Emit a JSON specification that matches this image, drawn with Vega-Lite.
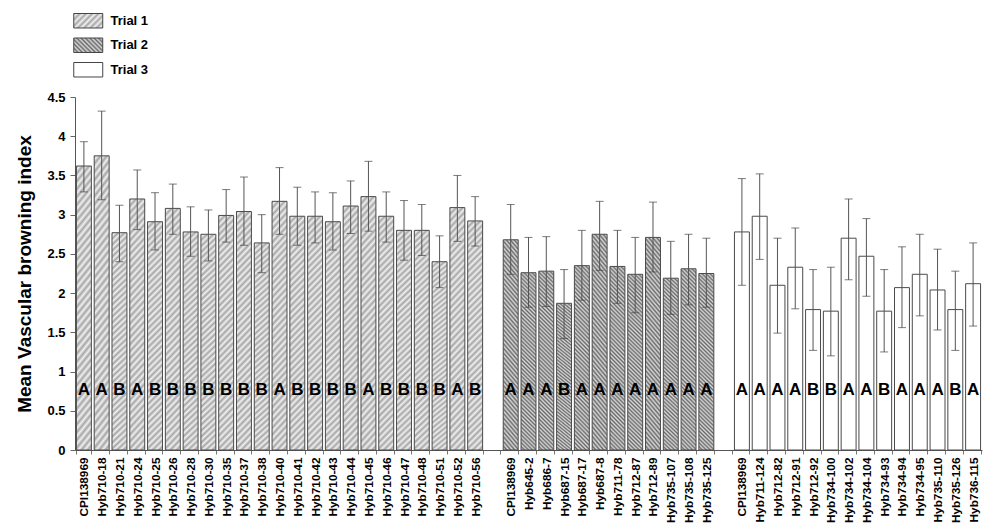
{
  "$schema": "https://vega.github.io/schema/vega-lite/v6.json",
  "width": 907,
  "height": 353,
  "autosize": {"type": "none"},
  "padding": {"left": 75, "top": 97, "right": 2, "bottom": 75},
  "background": "white",
  "config": {
    "view": {"stroke": null},
    "font": "Liberation Sans",
    "axisY": {
      "grid": false,
      "labelOverlap": false,
      "labelFont": "Liberation Sans",
      "labelFontWeight": "bold",
      "labelFontSize": 13,
      "labelColor": "#000000",
      "labelPadding": 5,
      "tickSize": 5,
      "tickColor": "#666666",
      "domainColor": "#555555",
      "titleFont": "Liberation Sans",
      "titleFontWeight": "bold",
      "titleFontSize": 19,
      "titleColor": "#000000",
      "titlePadding": 12
    }
  },
  "data": {"values": [
    {"trial": "Trial 1", "key": "1|CPI138969", "mean": 3.62, "lo": 3.29, "hi": 3.93, "letter": "A"},
    {"trial": "Trial 1", "key": "1|Hyb710-18", "mean": 3.75, "lo": 3.19, "hi": 4.32, "letter": "A"},
    {"trial": "Trial 1", "key": "1|Hyb710-21", "mean": 2.77, "lo": 2.40, "hi": 3.12, "letter": "B"},
    {"trial": "Trial 1", "key": "1|Hyb710-24", "mean": 3.20, "lo": 2.81, "hi": 3.57, "letter": "A"},
    {"trial": "Trial 1", "key": "1|Hyb710-25", "mean": 2.91, "lo": 2.55, "hi": 3.28, "letter": "B"},
    {"trial": "Trial 1", "key": "1|Hyb710-26", "mean": 3.08, "lo": 2.75, "hi": 3.39, "letter": "B"},
    {"trial": "Trial 1", "key": "1|Hyb710-28", "mean": 2.78, "lo": 2.47, "hi": 3.10, "letter": "B"},
    {"trial": "Trial 1", "key": "1|Hyb710-30", "mean": 2.75, "lo": 2.41, "hi": 3.06, "letter": "B"},
    {"trial": "Trial 1", "key": "1|Hyb710-35", "mean": 2.99, "lo": 2.65, "hi": 3.32, "letter": "B"},
    {"trial": "Trial 1", "key": "1|Hyb710-37", "mean": 3.04, "lo": 2.61, "hi": 3.48, "letter": "B"},
    {"trial": "Trial 1", "key": "1|Hyb710-38", "mean": 2.64, "lo": 2.26, "hi": 3.00, "letter": "B"},
    {"trial": "Trial 1", "key": "1|Hyb710-40", "mean": 3.17, "lo": 2.75, "hi": 3.60, "letter": "A"},
    {"trial": "Trial 1", "key": "1|Hyb710-41", "mean": 2.98, "lo": 2.61, "hi": 3.35, "letter": "B"},
    {"trial": "Trial 1", "key": "1|Hyb710-42", "mean": 2.98, "lo": 2.64, "hi": 3.29, "letter": "B"},
    {"trial": "Trial 1", "key": "1|Hyb710-43", "mean": 2.91, "lo": 2.55, "hi": 3.28, "letter": "B"},
    {"trial": "Trial 1", "key": "1|Hyb710-44", "mean": 3.11, "lo": 2.76, "hi": 3.43, "letter": "B"},
    {"trial": "Trial 1", "key": "1|Hyb710-45", "mean": 3.23, "lo": 2.79, "hi": 3.68, "letter": "A"},
    {"trial": "Trial 1", "key": "1|Hyb710-46", "mean": 2.98, "lo": 2.65, "hi": 3.29, "letter": "B"},
    {"trial": "Trial 1", "key": "1|Hyb710-47", "mean": 2.80, "lo": 2.42, "hi": 3.18, "letter": "B"},
    {"trial": "Trial 1", "key": "1|Hyb710-48", "mean": 2.80, "lo": 2.48, "hi": 3.13, "letter": "B"},
    {"trial": "Trial 1", "key": "1|Hyb710-51", "mean": 2.40, "lo": 2.07, "hi": 2.73, "letter": "B"},
    {"trial": "Trial 1", "key": "1|Hyb710-52", "mean": 3.09, "lo": 2.66, "hi": 3.50, "letter": "A"},
    {"trial": "Trial 1", "key": "1|Hyb710-56", "mean": 2.92, "lo": 2.60, "hi": 3.23, "letter": "B"},
    {"trial": "Trial 2", "key": "2|CPI138969", "mean": 2.68, "lo": 2.24, "hi": 3.13, "letter": "A"},
    {"trial": "Trial 2", "key": "2|Hyb645-2", "mean": 2.26, "lo": 1.82, "hi": 2.71, "letter": "A"},
    {"trial": "Trial 2", "key": "2|Hyb686-7", "mean": 2.28, "lo": 1.83, "hi": 2.72, "letter": "A"},
    {"trial": "Trial 2", "key": "2|Hyb687-15", "mean": 1.87, "lo": 1.42, "hi": 2.30, "letter": "B"},
    {"trial": "Trial 2", "key": "2|Hyb687-17", "mean": 2.35, "lo": 1.91, "hi": 2.80, "letter": "A"},
    {"trial": "Trial 2", "key": "2|Hyb687-8", "mean": 2.75, "lo": 2.29, "hi": 3.17, "letter": "A"},
    {"trial": "Trial 2", "key": "2|Hyb711-78", "mean": 2.34, "lo": 1.87, "hi": 2.80, "letter": "A"},
    {"trial": "Trial 2", "key": "2|Hyb712-87", "mean": 2.24, "lo": 1.75, "hi": 2.71, "letter": "A"},
    {"trial": "Trial 2", "key": "2|Hyb712-89", "mean": 2.71, "lo": 2.27, "hi": 3.16, "letter": "A"},
    {"trial": "Trial 2", "key": "2|Hyb735-107", "mean": 2.19, "lo": 1.73, "hi": 2.66, "letter": "A"},
    {"trial": "Trial 2", "key": "2|Hyb735-108", "mean": 2.31, "lo": 1.85, "hi": 2.75, "letter": "A"},
    {"trial": "Trial 2", "key": "2|Hyb735-125", "mean": 2.25, "lo": 1.82, "hi": 2.70, "letter": "A"},
    {"trial": "Trial 3", "key": "3|CPI138969", "mean": 2.78, "lo": 2.10, "hi": 3.46, "letter": "A"},
    {"trial": "Trial 3", "key": "3|Hyb711-124", "mean": 2.98, "lo": 2.43, "hi": 3.52, "letter": "A"},
    {"trial": "Trial 3", "key": "3|Hyb712-82", "mean": 2.10, "lo": 1.49, "hi": 2.70, "letter": "A"},
    {"trial": "Trial 3", "key": "3|Hyb712-91", "mean": 2.33, "lo": 1.80, "hi": 2.83, "letter": "A"},
    {"trial": "Trial 3", "key": "3|Hyb712-92", "mean": 1.79, "lo": 1.27, "hi": 2.30, "letter": "B"},
    {"trial": "Trial 3", "key": "3|Hyb734-100", "mean": 1.77, "lo": 1.20, "hi": 2.33, "letter": "B"},
    {"trial": "Trial 3", "key": "3|Hyb734-102", "mean": 2.70, "lo": 2.17, "hi": 3.20, "letter": "A"},
    {"trial": "Trial 3", "key": "3|Hyb734-104", "mean": 2.47, "lo": 1.96, "hi": 2.95, "letter": "A"},
    {"trial": "Trial 3", "key": "3|Hyb734-93", "mean": 1.77, "lo": 1.25, "hi": 2.30, "letter": "B"},
    {"trial": "Trial 3", "key": "3|Hyb734-94", "mean": 2.07, "lo": 1.56, "hi": 2.59, "letter": "A"},
    {"trial": "Trial 3", "key": "3|Hyb734-95", "mean": 2.24, "lo": 1.71, "hi": 2.75, "letter": "A"},
    {"trial": "Trial 3", "key": "3|Hyb735-110", "mean": 2.04, "lo": 1.53, "hi": 2.56, "letter": "A"},
    {"trial": "Trial 3", "key": "3|Hyb735-126", "mean": 1.79, "lo": 1.27, "hi": 2.28, "letter": "B"},
    {"trial": "Trial 3", "key": "3|Hyb736-115", "mean": 2.12, "lo": 1.58, "hi": 2.64, "letter": "A"}
  ]},
  "encoding": {
    "x": {
      "field": "key",
      "type": "nominal",
      "scale": {
        "domain": ["1|CPI138969", "1|Hyb710-18", "1|Hyb710-21", "1|Hyb710-24", "1|Hyb710-25", "1|Hyb710-26", "1|Hyb710-28", "1|Hyb710-30", "1|Hyb710-35", "1|Hyb710-37", "1|Hyb710-38", "1|Hyb710-40", "1|Hyb710-41", "1|Hyb710-42", "1|Hyb710-43", "1|Hyb710-44", "1|Hyb710-45", "1|Hyb710-46", "1|Hyb710-47", "1|Hyb710-48", "1|Hyb710-51", "1|Hyb710-52", "1|Hyb710-56", "gap1", "2|CPI138969", "2|Hyb645-2", "2|Hyb686-7", "2|Hyb687-15", "2|Hyb687-17", "2|Hyb687-8", "2|Hyb711-78", "2|Hyb712-87", "2|Hyb712-89", "2|Hyb735-107", "2|Hyb735-108", "2|Hyb735-125", "gap2", "3|CPI138969", "3|Hyb711-124", "3|Hyb712-82", "3|Hyb712-91", "3|Hyb712-92", "3|Hyb734-100", "3|Hyb734-102", "3|Hyb734-104", "3|Hyb734-93", "3|Hyb734-94", "3|Hyb734-95", "3|Hyb735-110", "3|Hyb735-126", "3|Hyb736-115"],
        "paddingInner": 0.16,
        "paddingOuter": 0.08
      },
      "axis": {
        "title": null,
        "labelExpr": "split(datum.value, '|')[1] || ''",
        "labelAngle": -90,
        "labelFont": "Liberation Sans",
        "labelFontWeight": "bold",
        "labelFontSize": 11.8,
        "labelColor": "#000000",
        "labelPadding": 3,
        "labelOverlap": false,
        "tickSize": 4,
        "tickColor": "#777777",
        "tickBand": "extent",
        "domainColor": "#555555"
      }
    }
  },
  "layer": [
    {
      "mark": {"type": "bar", "stroke": "#4a4a4a", "strokeWidth": 1},
      "encoding": {
        "y": {
          "field": "mean",
          "type": "quantitative",
          "title": "Mean Vascular browning index",
          "scale": {"domain": [0, 4.5], "nice": false, "zero": true},
          "axis": {"values": [0, 0.5, 1, 1.5, 2, 2.5, 3, 3.5, 4, 4.5], "format": "~g"}
        },
        "fill": {
          "field": "trial",
          "type": "nominal",
          "scale": {
            "domain": ["Trial 1", "Trial 2", "Trial 3"],
            "range": [
              {"expr": "{gradient: 'linear', x1: 0, y1: 0, x2: 1.2, y2: 0.6, stops: [{offset: 0, color: '#a6a6a6'}, {offset: 0.0714, color: '#f0f0f0'}, {offset: 0.1429, color: '#a6a6a6'}, {offset: 0.2143, color: '#f0f0f0'}, {offset: 0.2857, color: '#a6a6a6'}, {offset: 0.3571, color: '#f0f0f0'}, {offset: 0.4286, color: '#a6a6a6'}, {offset: 0.5, color: '#f0f0f0'}, {offset: 0.5714, color: '#a6a6a6'}, {offset: 0.6429, color: '#f0f0f0'}, {offset: 0.7143, color: '#a6a6a6'}, {offset: 0.7857, color: '#f0f0f0'}, {offset: 0.8571, color: '#a6a6a6'}, {offset: 0.9286, color: '#f0f0f0'}, {offset: 1, color: '#a6a6a6'}]}"},
              {"expr": "{gradient: 'linear', x1: 1, y1: 0, x2: -0.2, y2: 0.6, stops: [{offset: 0, color: '#6a6a6a'}, {offset: 0.05, color: '#d8d8d8'}, {offset: 0.1, color: '#6a6a6a'}, {offset: 0.15, color: '#d8d8d8'}, {offset: 0.2, color: '#6a6a6a'}, {offset: 0.25, color: '#d8d8d8'}, {offset: 0.3, color: '#6a6a6a'}, {offset: 0.35, color: '#d8d8d8'}, {offset: 0.4, color: '#6a6a6a'}, {offset: 0.45, color: '#d8d8d8'}, {offset: 0.5, color: '#6a6a6a'}, {offset: 0.55, color: '#d8d8d8'}, {offset: 0.6, color: '#6a6a6a'}, {offset: 0.65, color: '#d8d8d8'}, {offset: 0.7, color: '#6a6a6a'}, {offset: 0.75, color: '#d8d8d8'}, {offset: 0.8, color: '#6a6a6a'}, {offset: 0.85, color: '#d8d8d8'}, {offset: 0.9, color: '#6a6a6a'}, {offset: 0.95, color: '#d8d8d8'}, {offset: 1, color: '#6a6a6a'}]}"},
              "#ffffff"
            ]
          },
          "condition": [
            {"test": "datum.trial === 'Trial 1'", "value": {"gradient": "linear", "x1": 0, "y1": 0, "x2": 0.0715, "y2": 1.1, "stops": [
              {"offset": 0, "color": "#a6a6a6"}, {"offset": 0.0125, "color": "#f0f0f0"}, {"offset": 0.025, "color": "#a6a6a6"}, {"offset": 0.0375, "color": "#f0f0f0"},
              {"offset": 0.05, "color": "#a6a6a6"}, {"offset": 0.0625, "color": "#f0f0f0"}, {"offset": 0.075, "color": "#a6a6a6"}, {"offset": 0.0875, "color": "#f0f0f0"},
              {"offset": 0.1, "color": "#a6a6a6"}, {"offset": 0.1125, "color": "#f0f0f0"}, {"offset": 0.125, "color": "#a6a6a6"}, {"offset": 0.1375, "color": "#f0f0f0"},
              {"offset": 0.15, "color": "#a6a6a6"}, {"offset": 0.1625, "color": "#f0f0f0"}, {"offset": 0.175, "color": "#a6a6a6"}, {"offset": 0.1875, "color": "#f0f0f0"},
              {"offset": 0.2, "color": "#a6a6a6"}, {"offset": 0.2125, "color": "#f0f0f0"}, {"offset": 0.225, "color": "#a6a6a6"}, {"offset": 0.2375, "color": "#f0f0f0"},
              {"offset": 0.25, "color": "#a6a6a6"}, {"offset": 0.2625, "color": "#f0f0f0"}, {"offset": 0.275, "color": "#a6a6a6"}, {"offset": 0.2875, "color": "#f0f0f0"},
              {"offset": 0.3, "color": "#a6a6a6"}, {"offset": 0.3125, "color": "#f0f0f0"}, {"offset": 0.325, "color": "#a6a6a6"}, {"offset": 0.3375, "color": "#f0f0f0"},
              {"offset": 0.35, "color": "#a6a6a6"}, {"offset": 0.3625, "color": "#f0f0f0"}, {"offset": 0.375, "color": "#a6a6a6"}, {"offset": 0.3875, "color": "#f0f0f0"},
              {"offset": 0.4, "color": "#a6a6a6"}, {"offset": 0.4125, "color": "#f0f0f0"}, {"offset": 0.425, "color": "#a6a6a6"}, {"offset": 0.4375, "color": "#f0f0f0"},
              {"offset": 0.45, "color": "#a6a6a6"}, {"offset": 0.4625, "color": "#f0f0f0"}, {"offset": 0.475, "color": "#a6a6a6"}, {"offset": 0.4875, "color": "#f0f0f0"},
              {"offset": 0.5, "color": "#a6a6a6"}, {"offset": 0.5125, "color": "#f0f0f0"}, {"offset": 0.525, "color": "#a6a6a6"}, {"offset": 0.5375, "color": "#f0f0f0"},
              {"offset": 0.55, "color": "#a6a6a6"}, {"offset": 0.5625, "color": "#f0f0f0"}, {"offset": 0.575, "color": "#a6a6a6"}, {"offset": 0.5875, "color": "#f0f0f0"},
              {"offset": 0.6, "color": "#a6a6a6"}, {"offset": 0.6125, "color": "#f0f0f0"}, {"offset": 0.625, "color": "#a6a6a6"}, {"offset": 0.6375, "color": "#f0f0f0"},
              {"offset": 0.65, "color": "#a6a6a6"}, {"offset": 0.6625, "color": "#f0f0f0"}, {"offset": 0.675, "color": "#a6a6a6"}, {"offset": 0.6875, "color": "#f0f0f0"},
              {"offset": 0.7, "color": "#a6a6a6"}, {"offset": 0.7125, "color": "#f0f0f0"}, {"offset": 0.725, "color": "#a6a6a6"}, {"offset": 0.7375, "color": "#f0f0f0"},
              {"offset": 0.75, "color": "#a6a6a6"}, {"offset": 0.7625, "color": "#f0f0f0"}, {"offset": 0.775, "color": "#a6a6a6"}, {"offset": 0.7875, "color": "#f0f0f0"},
              {"offset": 0.8, "color": "#a6a6a6"}, {"offset": 0.8125, "color": "#f0f0f0"}, {"offset": 0.825, "color": "#a6a6a6"}, {"offset": 0.8375, "color": "#f0f0f0"},
              {"offset": 0.85, "color": "#a6a6a6"}, {"offset": 0.8625, "color": "#f0f0f0"}, {"offset": 0.875, "color": "#a6a6a6"}, {"offset": 0.8875, "color": "#f0f0f0"},
              {"offset": 0.9, "color": "#a6a6a6"}, {"offset": 0.9125, "color": "#f0f0f0"}, {"offset": 0.925, "color": "#a6a6a6"}, {"offset": 0.9375, "color": "#f0f0f0"},
              {"offset": 0.95, "color": "#a6a6a6"}, {"offset": 0.9625, "color": "#f0f0f0"}, {"offset": 0.975, "color": "#a6a6a6"}, {"offset": 0.9875, "color": "#f0f0f0"},
              {"offset": 1, "color": "#a6a6a6"}
            ]}},
            {"test": "datum.trial === 'Trial 2'", "value": {"gradient": "linear", "x1": 1, "y1": 0, "x2": 0.9087, "y2": 1.1, "stops": [
              {"offset": 0, "color": "#6a6a6a"}, {"offset": 0.01, "color": "#d8d8d8"}, {"offset": 0.02, "color": "#6a6a6a"}, {"offset": 0.03, "color": "#d8d8d8"},
              {"offset": 0.04, "color": "#6a6a6a"}, {"offset": 0.05, "color": "#d8d8d8"}, {"offset": 0.06, "color": "#6a6a6a"}, {"offset": 0.07, "color": "#d8d8d8"},
              {"offset": 0.08, "color": "#6a6a6a"}, {"offset": 0.09, "color": "#d8d8d8"}, {"offset": 0.1, "color": "#6a6a6a"}, {"offset": 0.11, "color": "#d8d8d8"},
              {"offset": 0.12, "color": "#6a6a6a"}, {"offset": 0.13, "color": "#d8d8d8"}, {"offset": 0.14, "color": "#6a6a6a"}, {"offset": 0.15, "color": "#d8d8d8"},
              {"offset": 0.16, "color": "#6a6a6a"}, {"offset": 0.17, "color": "#d8d8d8"}, {"offset": 0.18, "color": "#6a6a6a"}, {"offset": 0.19, "color": "#d8d8d8"},
              {"offset": 0.2, "color": "#6a6a6a"}, {"offset": 0.21, "color": "#d8d8d8"}, {"offset": 0.22, "color": "#6a6a6a"}, {"offset": 0.23, "color": "#d8d8d8"},
              {"offset": 0.24, "color": "#6a6a6a"}, {"offset": 0.25, "color": "#d8d8d8"}, {"offset": 0.26, "color": "#6a6a6a"}, {"offset": 0.27, "color": "#d8d8d8"},
              {"offset": 0.28, "color": "#6a6a6a"}, {"offset": 0.29, "color": "#d8d8d8"}, {"offset": 0.3, "color": "#6a6a6a"}, {"offset": 0.31, "color": "#d8d8d8"},
              {"offset": 0.32, "color": "#6a6a6a"}, {"offset": 0.33, "color": "#d8d8d8"}, {"offset": 0.34, "color": "#6a6a6a"}, {"offset": 0.35, "color": "#d8d8d8"},
              {"offset": 0.36, "color": "#6a6a6a"}, {"offset": 0.37, "color": "#d8d8d8"}, {"offset": 0.38, "color": "#6a6a6a"}, {"offset": 0.39, "color": "#d8d8d8"},
              {"offset": 0.4, "color": "#6a6a6a"}, {"offset": 0.41, "color": "#d8d8d8"}, {"offset": 0.42, "color": "#6a6a6a"}, {"offset": 0.43, "color": "#d8d8d8"},
              {"offset": 0.44, "color": "#6a6a6a"}, {"offset": 0.45, "color": "#d8d8d8"}, {"offset": 0.46, "color": "#6a6a6a"}, {"offset": 0.47, "color": "#d8d8d8"},
              {"offset": 0.48, "color": "#6a6a6a"}, {"offset": 0.49, "color": "#d8d8d8"}, {"offset": 0.5, "color": "#6a6a6a"}, {"offset": 0.51, "color": "#d8d8d8"},
              {"offset": 0.52, "color": "#6a6a6a"}, {"offset": 0.53, "color": "#d8d8d8"}, {"offset": 0.54, "color": "#6a6a6a"}, {"offset": 0.55, "color": "#d8d8d8"},
              {"offset": 0.56, "color": "#6a6a6a"}, {"offset": 0.57, "color": "#d8d8d8"}, {"offset": 0.58, "color": "#6a6a6a"}, {"offset": 0.59, "color": "#d8d8d8"},
              {"offset": 0.6, "color": "#6a6a6a"}, {"offset": 0.61, "color": "#d8d8d8"}, {"offset": 0.62, "color": "#6a6a6a"}, {"offset": 0.63, "color": "#d8d8d8"},
              {"offset": 0.64, "color": "#6a6a6a"}, {"offset": 0.65, "color": "#d8d8d8"}, {"offset": 0.66, "color": "#6a6a6a"}, {"offset": 0.67, "color": "#d8d8d8"},
              {"offset": 0.68, "color": "#6a6a6a"}, {"offset": 0.69, "color": "#d8d8d8"}, {"offset": 0.7, "color": "#6a6a6a"}, {"offset": 0.71, "color": "#d8d8d8"},
              {"offset": 0.72, "color": "#6a6a6a"}, {"offset": 0.73, "color": "#d8d8d8"}, {"offset": 0.74, "color": "#6a6a6a"}, {"offset": 0.75, "color": "#d8d8d8"},
              {"offset": 0.76, "color": "#6a6a6a"}, {"offset": 0.77, "color": "#d8d8d8"}, {"offset": 0.78, "color": "#6a6a6a"}, {"offset": 0.79, "color": "#d8d8d8"},
              {"offset": 0.8, "color": "#6a6a6a"}, {"offset": 0.81, "color": "#d8d8d8"}, {"offset": 0.82, "color": "#6a6a6a"}, {"offset": 0.83, "color": "#d8d8d8"},
              {"offset": 0.84, "color": "#6a6a6a"}, {"offset": 0.85, "color": "#d8d8d8"}, {"offset": 0.86, "color": "#6a6a6a"}, {"offset": 0.87, "color": "#d8d8d8"},
              {"offset": 0.88, "color": "#6a6a6a"}, {"offset": 0.89, "color": "#d8d8d8"}, {"offset": 0.9, "color": "#6a6a6a"}, {"offset": 0.91, "color": "#d8d8d8"},
              {"offset": 0.92, "color": "#6a6a6a"}, {"offset": 0.93, "color": "#d8d8d8"}, {"offset": 0.94, "color": "#6a6a6a"}, {"offset": 0.95, "color": "#d8d8d8"},
              {"offset": 0.96, "color": "#6a6a6a"}, {"offset": 0.97, "color": "#d8d8d8"}, {"offset": 0.98, "color": "#6a6a6a"}, {"offset": 0.99, "color": "#d8d8d8"},
              {"offset": 1, "color": "#6a6a6a"}
            ]}}
          ],
          "legend": {
            "title": null,
            "orient": "none",
            "legendX": 5.25,
            "legendY": -84.25,
            "padding": 0,
            "symbolType": "M-2,-1H2V1H-2Z",
            "symbolSize": 210,
            "symbolStrokeColor": "#444444",
            "symbolStrokeWidth": 1,
            "symbolOpacity": 1,
            "labelOffset": 14.25,
            "rowPadding": 4.5,
            "labelFont": "Liberation Sans",
            "labelFontWeight": "bold",
            "labelFontSize": 13,
            "labelColor": "#000000"
          }
        }
      }
    },
    {
      "mark": {"type": "rule", "color": "#555555", "strokeWidth": 1},
      "encoding": {
        "y": {"field": "lo", "type": "quantitative", "title": "Mean Vascular browning index", "axis": {"values": [0, 0.5, 1, 1.5, 2, 2.5, 3, 3.5, 4, 4.5], "format": "~g"}},
        "y2": {"field": "hi"}
      }
    },
    {
      "mark": {"type": "tick", "color": "#444444", "thickness": 1, "size": 8},
      "encoding": {"y": {"field": "lo", "type": "quantitative", "title": "Mean Vascular browning index", "axis": {"values": [0, 0.5, 1, 1.5, 2, 2.5, 3, 3.5, 4, 4.5], "format": "~g"}}}
    },
    {
      "mark": {"type": "tick", "color": "#444444", "thickness": 1, "size": 8},
      "encoding": {"y": {"field": "hi", "type": "quantitative", "title": "Mean Vascular browning index", "axis": {"values": [0, 0.5, 1, 1.5, 2, 2.5, 3, 3.5, 4, 4.5], "format": "~g"}}}
    },
    {
      "mark": {"type": "text", "font": "Liberation Sans", "fontWeight": "bold", "fontSize": 17, "baseline": "alphabetic", "color": "#000000"},
      "encoding": {
        "y": {"datum": 0.7, "type": "quantitative", "title": "Mean Vascular browning index", "axis": {"values": [0, 0.5, 1, 1.5, 2, 2.5, 3, 3.5, 4, 4.5], "format": "~g"}},
        "text": {"field": "letter"}
      }
    }
  ]
}
